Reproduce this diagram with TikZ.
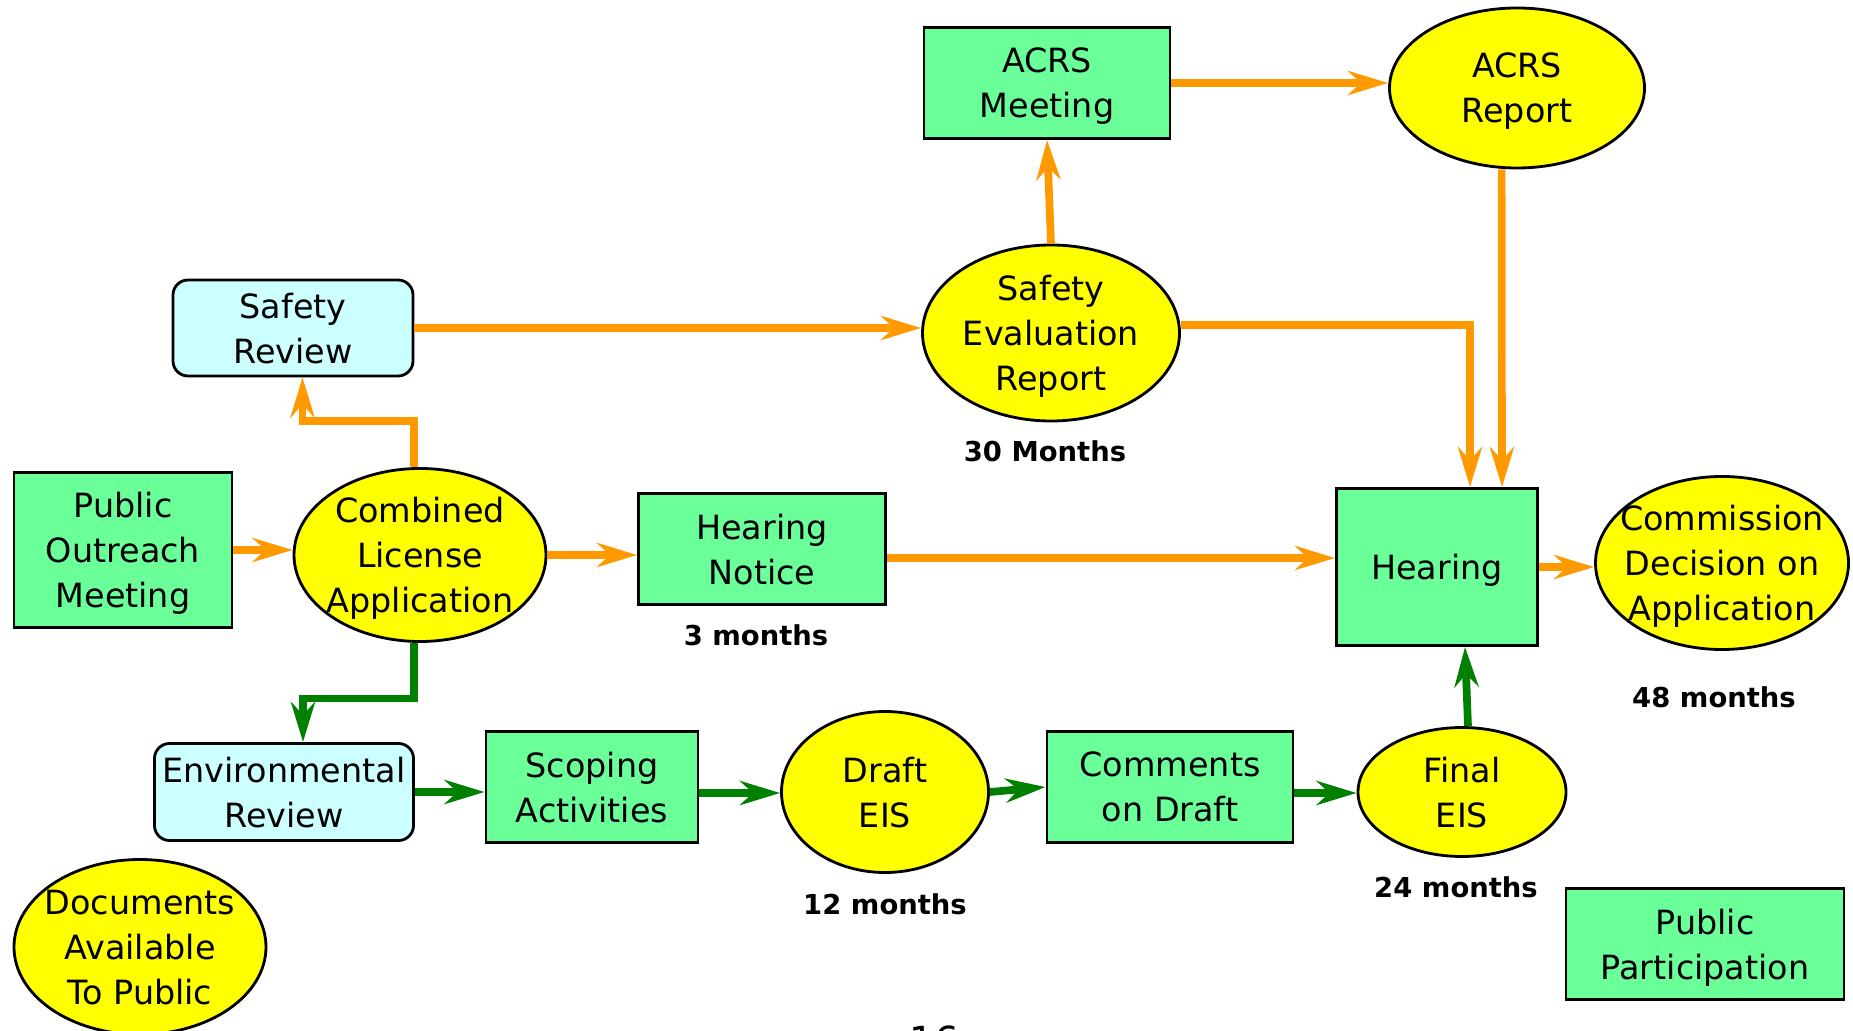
\documentclass[tikz,border=0pt]{standalone}
\usepackage{fontspec}
\setmainfont{DejaVu Sans}
\usepackage{xcolor}
\usetikzlibrary{shapes.geometric, arrows.meta, positioning}
\definecolor{boxgreen}{rgb}{0.42,1.0,0.6}
\definecolor{reviewcyan}{rgb}{0.8,1.0,1.0}
\definecolor{reportyellow}{rgb}{1.0,1.0,0.0}
\definecolor{safetyorange}{rgb}{1.0,0.6,0.0}
\definecolor{envgreen}{rgb}{0.0,0.5,0.0}
\newcommand{\boxfont}{\fontsize{9.5}{12.8}\selectfont}
\newcommand{\durfont}{\fontsize{7.8}{9}\selectfont\bfseries}

\begin{document}
\begin{tikzpicture}[
    box/.style={rectangle, draw, line width=0.8pt, fill=boxgreen, inner sep=0pt, text depth=0pt, align=center, font=\boxfont},
    oval/.style={ellipse, draw, line width=0.8pt, fill=reportyellow, inner sep=-2mm, text depth=0pt, align=center, font=\boxfont},
    review/.style={rectangle, rounded corners=0.15cm, draw, line width=0.8pt, fill=reviewcyan, inner sep=0pt, text depth=0pt, align=center, font=\boxfont},
    dur/.style={inner sep=0pt, font=\durfont},
    oarrow/.style={-{Stealth[length=0.4cm, width=0.24cm, inset=0.13cm]}, line width=0.077cm, safetyorange},
    garrow/.style={-{Stealth[length=0.4cm, width=0.24cm, inset=0.13cm]}, line width=0.077cm, envgreen}
]
\useasboundingbox (0,0) rectangle (18.53,10.30);

\node[box, minimum width=2.46cm, minimum height=1.11cm] (acrsmeet) at (10.47,9.47) {ACRS\\Meeting};
\node[oval, minimum width=2.55cm, minimum height=1.6cm] (acrsrep) at (15.17,9.42) {ACRS\\Report};
\node[review, minimum width=2.4cm, minimum height=0.96cm] (safety) at (2.93,7.02) {Safety\\Review};
\node[oval, minimum width=2.57cm, minimum height=1.76cm] (ser) at (10.51,6.97) {Safety\\Evaluation\\Report};
\node[dur] (ser30) at (10.45,5.79) {30 Months};

\node[box, minimum width=2.18cm, minimum height=1.55cm] (outreach) at (1.23,4.80) {Public\\Outreach\\Meeting};
\node[oval, minimum width=2.52cm, minimum height=1.73cm] (cla) at (4.20,4.75) {Combined\\License\\Application};
\node[box, minimum width=2.47cm, minimum height=1.11cm] (notice) at (7.62,4.81) {Hearing\\Notice};
\node[dur] (notice3) at (7.56,3.95) {3 months};
\node[box, minimum width=2.01cm, minimum height=1.57cm] (hearing) at (14.37,4.63) {Hearing};
\node[oval, minimum width=2.53cm, minimum height=1.73cm] (decision) at (17.22,4.67) {Commission\\Decision on\\Application};
\node[dur] (decision48) at (17.14,3.33) {48 months};

\node[review, minimum width=2.59cm, minimum height=0.97cm] (envrev) at (2.84,2.38) {Environmental\\Review};
\node[box, minimum width=2.12cm, minimum height=1.11cm] (scoping) at (5.92,2.43) {Scoping\\Activities};
\node[oval, minimum width=2.07cm, minimum height=1.61cm] (draft) at (8.85,2.38) {Draft\\EIS};
\node[dur] (draft12) at (8.85,1.26) {12 months};
\node[box, minimum width=2.46cm, minimum height=1.11cm] (comments) at (11.70,2.43) {Comments\\on Draft};
\node[oval, minimum width=2.08cm, minimum height=1.29cm] (final) at (14.62,2.38) {Final\\EIS};
\node[dur] (final24) at (14.56,1.43) {24 months};

\node[box, minimum width=2.78cm, minimum height=1.11cm] (participation) at (17.05,0.86) {Public\\Participation};
\node[oval, minimum width=2.52cm, minimum height=1.75cm] (documents) at (1.40,0.83) {Documents\\Available\\To Public};
\node[anchor=north, inner sep=0pt, font=\fontsize{11}{13}\selectfont] (pagenum) at (9.34,0.05) {16};

\draw[oarrow] (outreach.east) -- (outreach.east -| cla.west);
\draw[oarrow] (cla.east) -- (cla.east -| notice.west);
\draw[oarrow] ([xshift=-0.06cm]cla.north) -- ++(0,0.46) -| ([xshift=0.095cm]safety.south);
\draw[oarrow] (safety.east) -- (safety.east -| ser.west);
\draw[oarrow] (ser.north) -- (acrsmeet.south);
\draw[oarrow] (acrsmeet.east) -- (acrsmeet.east -| acrsrep.west);
\draw[oarrow] ([xshift=-0.154cm]acrsrep.south) -- ([xshift=0.65cm]hearing.north);
\draw[oarrow] ([yshift=0.08cm]ser.east) -| ([xshift=0.33cm]hearing.north);
\draw[oarrow] ([yshift=-0.09cm]notice.east) -- ([yshift=-0.09cm]notice.east -| hearing.west);
\draw[oarrow] (hearing.east) -- (hearing.east -| decision.west);

\draw[garrow] ([xshift=-0.06cm]cla.south) -- ++(0,-0.555) -| ([xshift=0.19cm]envrev.north);
\draw[garrow] (envrev.east) -- (envrev.east -| scoping.west);
\draw[garrow] ([yshift=-0.06cm]scoping.east) -- ([yshift=-0.06cm]scoping.east -| draft.west);
\draw[garrow] (draft.east) -- (comments.west);
\draw[garrow] ([yshift=-0.06cm]comments.east) -- ([yshift=-0.06cm]comments.east -| final.west);
\draw[garrow] ([xshift=0.06cm]final.north) -- ([xshift=0.28cm]hearing.south);

\end{tikzpicture}
\end{document}
